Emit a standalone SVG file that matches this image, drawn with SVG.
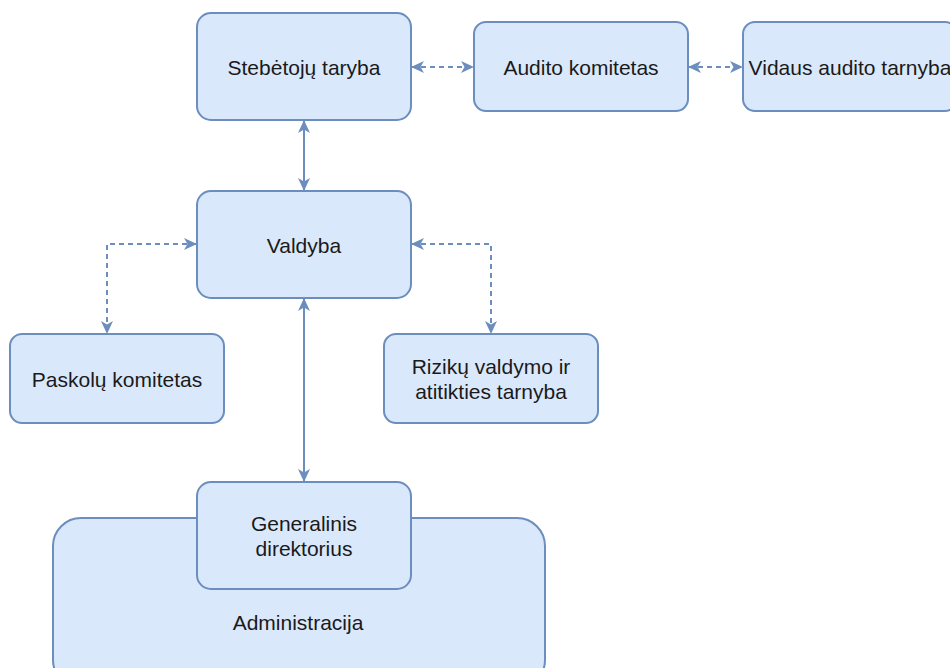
<svg xmlns="http://www.w3.org/2000/svg" width="950" height="668" viewBox="0 0 950 668">
<defs>
<style>
.box{fill:#dae8fc;stroke:#6c8ebf;stroke-width:2}
.lbl{font-family:"Liberation Sans",Arial,sans-serif;font-size:21px;fill:#1a1a1a;text-anchor:middle}
.con{fill:none;stroke:#6c8ebf;stroke-width:2}
.dash{stroke-dasharray:5 4}
</style>
<marker id="ah" viewBox="0 0 13 12" refX="12" refY="6" markerWidth="13" markerHeight="12" markerUnits="userSpaceOnUse" orient="auto-start-reverse">
<path d="M0,0 L13,6 L0,12 L3.5,6 Z" fill="#6c8ebf"/>
</marker>
</defs>
<rect width="950" height="668" fill="#ffffff"/>
<g id="connectors">
<line class="con" x1="304" y1="121" x2="304" y2="190" marker-start="url(#ah)" marker-end="url(#ah)"/>
<line class="con dash" x1="412" y1="67" x2="473" y2="67" marker-start="url(#ah)" marker-end="url(#ah)"/>
<line class="con dash" x1="689" y1="67" x2="742" y2="67" marker-start="url(#ah)" marker-end="url(#ah)"/>
<polyline class="con dash" points="196,244 107,244 107,333" marker-start="url(#ah)" marker-end="url(#ah)"/>
<polyline class="con dash" points="412,244 491,244 491,333" marker-start="url(#ah)" marker-end="url(#ah)"/>
<line class="con" x1="304" y1="299" x2="304" y2="481" marker-start="url(#ah)" marker-end="url(#ah)"/>
</g>
<g id="administracija">
<rect class="box" x="53" y="518" width="492" height="170" rx="28"/>
<text class="lbl" x="298" y="630">Administracija</text>
</g>
<g id="stebetoju-taryba">
<rect class="box" x="197" y="13" width="214" height="107" rx="14"/>
<text class="lbl" x="304" y="75">Stebėtojų taryba</text>
</g>
<g id="audito-komitetas">
<rect class="box" x="474" y="22" width="214" height="89" rx="12"/>
<text class="lbl" x="581" y="75">Audito komitetas</text>
</g>
<g id="vidaus-audito-tarnyba">
<rect class="box" x="743" y="22" width="214" height="89" rx="12"/>
<text class="lbl" x="850" y="75">Vidaus audito tarnyba</text>
</g>
<g id="valdyba">
<rect class="box" x="197" y="191" width="214" height="107" rx="14"/>
<text class="lbl" x="304" y="253">Valdyba</text>
</g>
<g id="paskolu-komitetas">
<rect class="box" x="10" y="334" width="214" height="89" rx="12"/>
<text class="lbl" x="117" y="387">Paskolų komitetas</text>
</g>
<g id="riziku-valdymo">
<rect class="box" x="384" y="334" width="214" height="89" rx="12"/>
<text class="lbl" x="491" y="374">Rizikų valdymo ir</text>
<text class="lbl" x="491" y="399">atitikties tarnyba</text>
</g>
<g id="generalinis-direktorius">
<rect class="box" x="197" y="482" width="214" height="107" rx="14"/>
<text class="lbl" x="304" y="531">Generalinis</text>
<text class="lbl" x="304" y="556">direktorius</text>
</g>
</svg>
